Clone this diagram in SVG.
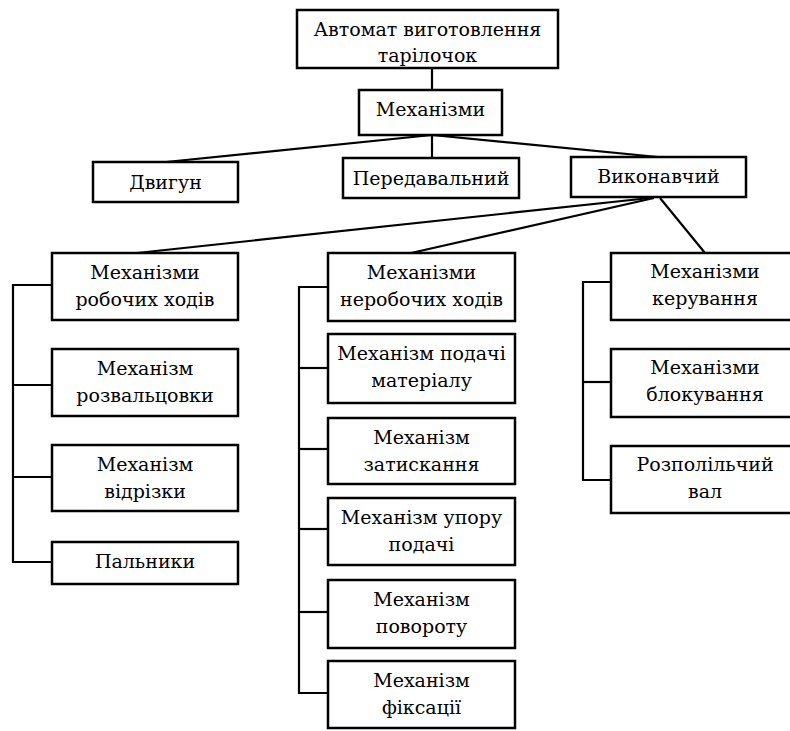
<svg xmlns="http://www.w3.org/2000/svg" width="790" height="731" viewBox="0 0 790 731">
<defs>
<style>
.box{fill:#fff;stroke:#000;stroke-width:2.5}
.c{fill:none;stroke:#000;stroke-width:2.2}
</style>
</defs>
<rect width="790" height="731" fill="#fff"/>
<g id="connectors">
<line class="c" x1="432" y1="68" x2="432" y2="90"/>
<line class="c" x1="432" y1="135" x2="166" y2="162"/>
<line class="c" x1="432" y1="135" x2="432" y2="158"/>
<line class="c" x1="432" y1="135" x2="658" y2="157"/>
<line class="c" x1="650" y1="198" x2="137" y2="253"/>
<line class="c" x1="654" y1="198" x2="411" y2="253"/>
<line class="c" x1="660" y1="198" x2="705" y2="253"/>
<polyline class="c" points="52,285 13,285 13,562 52,562"/>
<line class="c" x1="13" y1="385" x2="52" y2="385"/>
<line class="c" x1="13" y1="477" x2="52" y2="477"/>
<polyline class="c" points="328,287 299,287 299,693 328,693"/>
<line class="c" x1="299" y1="368" x2="328" y2="368"/>
<line class="c" x1="299" y1="449" x2="328" y2="449"/>
<line class="c" x1="299" y1="529" x2="328" y2="529"/>
<line class="c" x1="299" y1="612" x2="328" y2="612"/>
<polyline class="c" points="611,282 583,282 583,480 611,480"/>
<line class="c" x1="583" y1="382" x2="611" y2="382"/>
</g>
<g font-family="DejaVu Serif, Liberation Serif, serif" font-size="19" fill="#000" text-anchor="middle">
<g id="n-automat"><rect class="box" x="297" y="10" width="261" height="58"/><text x="427.5" y="36">Автомат виготовлення</text><text x="427.5" y="62">тарілочок</text></g>
<g id="n-mech"><rect class="box" x="359" y="90" width="143" height="45"/><text x="430.5" y="116">Механізми</text></g>
<g id="n-dvyhun"><rect class="box" x="93" y="162" width="145" height="40"/><text x="165.5" y="189">Двигун</text></g>
<g id="n-peredav"><rect class="box" x="343" y="158" width="176" height="40"/><text x="431" y="185">Передавальний</text></g>
<g id="n-vykon"><rect class="box" x="571" y="157" width="175" height="40"/><text x="658.5" y="183">Виконавчий</text></g>

<g id="n-robochi"><rect class="box" x="52" y="253" width="186" height="67"/><text x="145" y="279">Механізми</text><text x="145" y="306">робочих ходів</text></g>
<g id="n-rozvalts"><rect class="box" x="52" y="349" width="186" height="67"/><text x="145" y="375">Механізм</text><text x="145" y="402">розвальцовки</text></g>
<g id="n-vidrizky"><rect class="box" x="52" y="445" width="186" height="66"/><text x="145" y="471">Механізм</text><text x="145" y="498">відрізки</text></g>
<g id="n-palnyky"><rect class="box" x="52" y="542" width="186" height="42"/><text x="145" y="568">Пальники</text></g>

<g id="n-nerobochi"><rect class="box" x="328" y="253" width="187" height="68"/><text x="421.5" y="279">Механізми</text><text x="421.5" y="306">неробочих ходів</text></g>
<g id="n-podachi"><rect class="box" x="328" y="334" width="187" height="69"/><text x="421.5" y="360">Механізм подачі</text><text x="421.5" y="387">матеріалу</text></g>
<g id="n-zatysk"><rect class="box" x="328" y="418" width="187" height="66"/><text x="421.5" y="444">Механізм</text><text x="421.5" y="471">затискання</text></g>
<g id="n-upor"><rect class="box" x="328" y="498" width="187" height="67"/><text x="421.5" y="524">Механізм упору</text><text x="421.5" y="551">подачі</text></g>
<g id="n-povorot"><rect class="box" x="328" y="580" width="187" height="68"/><text x="421.5" y="606">Механізм</text><text x="421.5" y="633">повороту</text></g>
<g id="n-fiks"><rect class="box" x="328" y="661" width="187" height="67"/><text x="421.5" y="687">Механізм</text><text x="421.5" y="714">фіксації</text></g>

<g id="n-keruv"><rect class="box" x="611" y="253" width="190" height="67"/><text x="705" y="278">Механізми</text><text x="705" y="305">керування</text></g>
<g id="n-blok"><rect class="box" x="611" y="349" width="190" height="68"/><text x="705" y="374">Механізми</text><text x="705" y="401">блокування</text></g>
<g id="n-rozpol"><rect class="box" x="611" y="446" width="190" height="67"/><text x="705" y="471">Розполільчий</text><text x="705" y="498">вал</text></g>
</g>
</svg>
